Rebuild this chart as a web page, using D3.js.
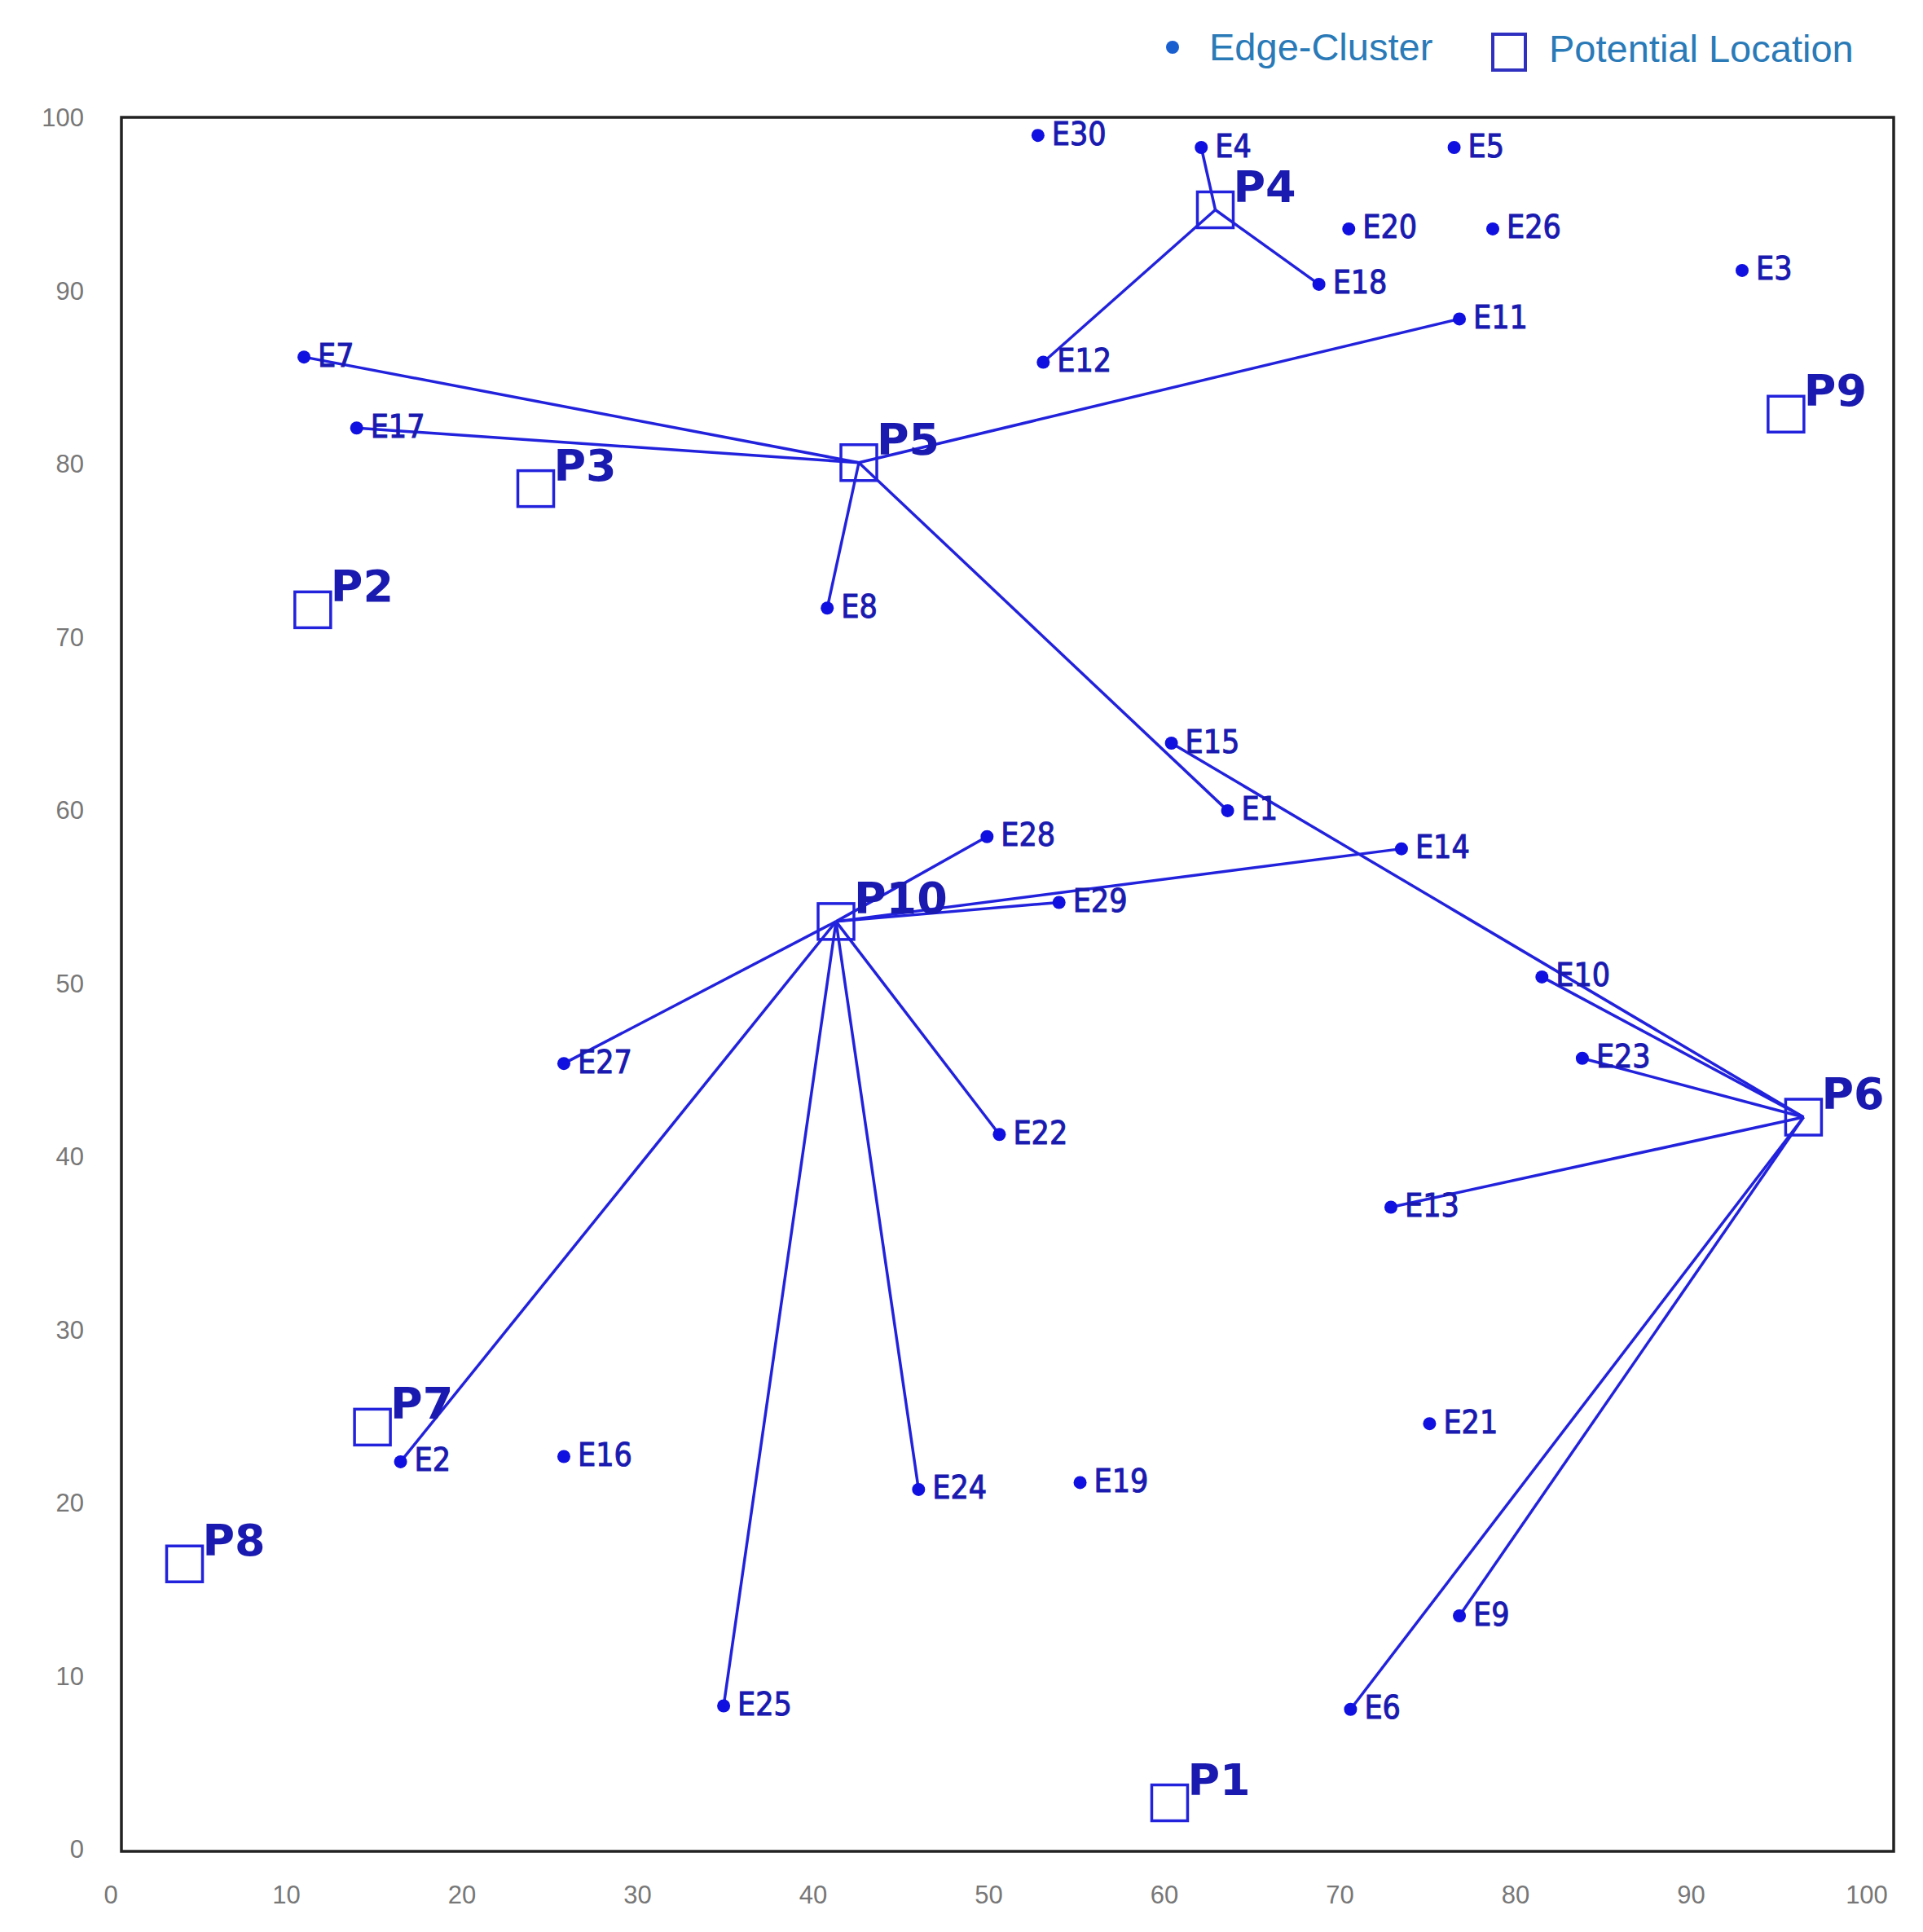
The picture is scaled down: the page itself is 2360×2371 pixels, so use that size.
<!DOCTYPE html>
<html><head><meta charset="utf-8">
<script src="https://cdn.jsdelivr.net/npm/d3@7"></script>
<style>body{margin:0;background:#fff}</style></head>
<body><svg id="c" width="2360" height="2371"></svg>
<script>
const edgeNames=["E1","E2","E3","E4","E5","E6","E7","E8","E9","E10","E11","E12","E13","E14","E15","E16","E17","E18","E19","E20","E21","E22","E23","E24","E25","E26","E27","E28","E29","E30"];
const edgeX=[63.6,16.5,92.9,62.1,76.5,70.6,11.0,40.8,76.8,81.5,76.8,53.1,72.9,73.5,60.4,25.8,14.0,68.8,55.2,70.5,75.1,50.6,83.8,46.0,34.9,78.7,25.8,49.9,54.0,52.8];
const edgeY=[60.1,22.5,91.3,98.4,98.4,8.2,86.3,71.8,13.6,50.5,88.5,86.0,37.2,57.9,64.0,22.8,82.2,90.5,21.3,93.7,24.7,41.4,45.8,20.9,8.4,93.7,45.5,58.6,54.8,99.1];
const locNames=["P1","P2","P3","P4","P5","P6","P7","P8","P9","P10"];
const locX=[60.3,11.5,24.2,62.9,42.6,96.4,14.9,4.2,95.4,41.3];
const locY=[2.8,71.7,78.7,94.8,80.2,42.4,24.5,16.6,83.0,53.7];
const linkFrom=["P4","P4","P4","P5","P5","P5","P5","P5","P10","P10","P10","P10","P10","P10","P10","P10","P6","P6","P6","P6","P6","P6"];
const linkTo=["E4","E18","E12","E7","E17","E11","E8","E1","E28","E29","E14","E27","E2","E25","E24","E22","E15","E10","E23","E13","E6","E9"];
const ticks=[0,10,20,30,40,50,60,70,80,90,100];

const svg=d3.select("#c");
const x=d3.scaleLinear().domain([0,100]).range([136,2291]);
const y=d3.scaleLinear().domain([0,100]).range([2272,147]);
const blue="#2222dd", lblue="#1a1ab0";
const L={left:149,right:2324,top:144,bottom:2272};

svg.append("rect").attr("x",L.left).attr("y",L.top).attr("width",L.right-L.left).attr("height",L.bottom-L.top)
 .attr("fill","none").attr("stroke","#222").attr("stroke-width",3.5);

ticks.forEach(t=>{
 svg.append("text").attr("x",x(t)).attr("y",2328).attr("text-anchor","middle").attr("dominant-baseline","middle")
  .attr("font-family","Liberation Sans, Arial").attr("font-size",31).attr("fill","#777").text(t);
 svg.append("text").attr("x",103).attr("y",y(t)).attr("text-anchor","end").attr("dominant-baseline","middle")
  .attr("font-family","Liberation Sans, Arial").attr("font-size",31).attr("fill","#777").text(t);
});

const E={},P={};
edgeNames.forEach((n,i)=>E[n]=[edgeX[i],edgeY[i]]);
locNames.forEach((n,i)=>P[n]=[locX[i],locY[i]]);

linkFrom.forEach((f,i)=>{
 const a=P[f],b=E[linkTo[i]];
 svg.append("line").attr("x1",x(a[0])).attr("y1",y(a[1])).attr("x2",x(b[0])).attr("y2",y(b[1]))
  .attr("stroke",blue).attr("stroke-width",3.5);
});

edgeNames.forEach(n=>{
 const p=E[n];
 svg.append("circle").attr("cx",x(p[0])).attr("cy",y(p[1])).attr("r",8).attr("fill","#1010e0");
 svg.append("text").attr("x",x(p[0])+17).attr("y",y(p[1])+1).attr("dominant-baseline","middle")
  .attr("font-family","DejaVu Sans Condensed, DejaVu Sans").attr("font-size",39).attr("fill",lblue)
  .attr("stroke",lblue).attr("stroke-width",1).text(n);
});

locNames.forEach(n=>{
 const p=P[n];
 svg.append("rect").attr("x",x(p[0])-22).attr("y",y(p[1])-22).attr("width",44).attr("height",44)
  .attr("fill","none").attr("stroke",blue).attr("stroke-width",3.5);
 svg.append("text").attr("x",x(p[0])+22).attr("y",y(p[1])-10)
  .attr("font-family","DejaVu Sans").attr("font-weight","bold").attr("font-size",54).attr("fill",lblue).text(n);
});

// legend
svg.append("circle").attr("cx",1439).attr("cy",58).attr("r",8).attr("fill","#1a5fd0");
svg.append("text").attr("x",1484).attr("y",62).attr("dominant-baseline","middle").attr("font-family","Liberation Sans, Arial")
 .attr("font-size",47).attr("fill","#2a7ab8").text("Edge-Cluster");
svg.append("rect").attr("x",1832).attr("y",42).attr("width",40).attr("height",44).attr("fill","none").attr("stroke","#3030c0").attr("stroke-width",4);
svg.append("text").attr("x",1901).attr("y",64).attr("dominant-baseline","middle").attr("font-family","Liberation Sans, Arial")
 .attr("font-size",47).attr("fill","#2a7ab8").text("Potential Location");
</script></body></html>
